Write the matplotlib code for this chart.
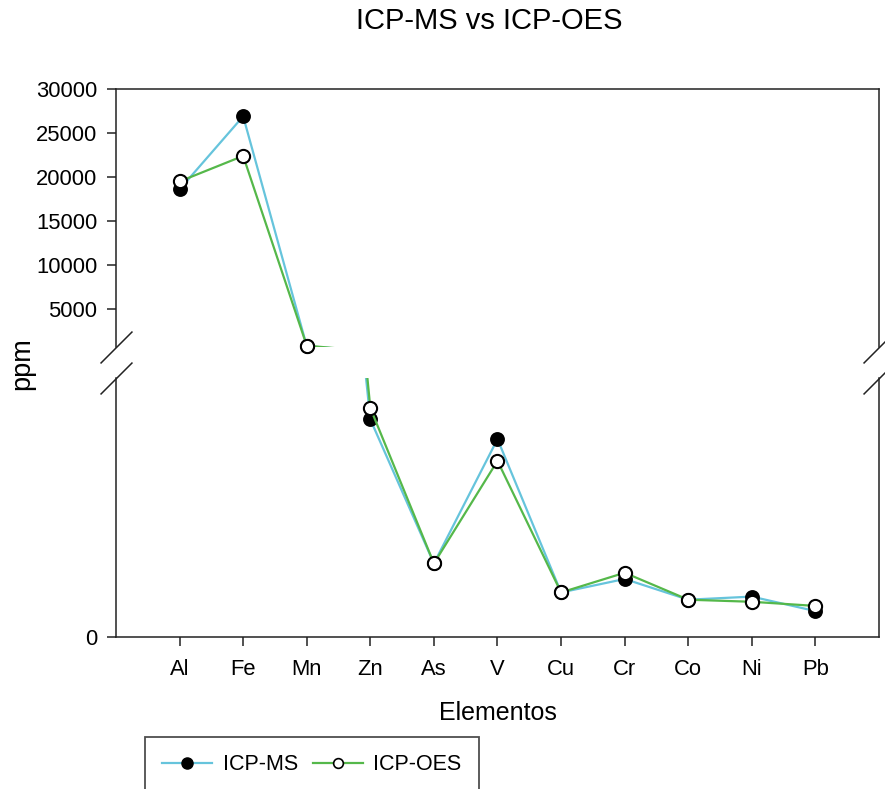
import numpy as np
import matplotlib
matplotlib.use("Agg")
import matplotlib.pyplot as plt
from matplotlib.lines import Line2D

plt.rcParams["font.family"] = ["Liberation Sans", "DejaVu Sans"]

elements = ["Al", "Fe", "Mn", "Zn", "As", "V", "Cu", "Cr", "Co", "Ni", "Pb"]
icp_ms = [18600, 26900, 800, 210, 71, 191, 43, 56, 36, 39, 25]
icp_oes = [19500, 22400, 850, 221, 71, 170, 43, 62, 36, 34, 30]

upper_ticks = [5000, 10000, 15000, 20000, 25000, 30000]
upper_lim = (700, 30000)
lower_lim = (0, 250)

MS_COLOR = "#66c4dc"
OES_COLOR = "#55b84a"
SPINE = "#222222"

fig = plt.figure(figsize=(8.85, 7.89), dpi=100)
left, right = 116 / 885, 879 / 885
ax_hi = fig.add_axes([left, 1 - 347 / 789, right - left, (347 - 89) / 789])
ax_lo = fig.add_axes([left, 1 - 637 / 789, right - left, (637 - 378) / 789])

x = np.arange(len(elements))
ms = np.array(icp_ms, dtype=float)
oes = np.array(icp_oes, dtype=float)


def draw_series(ax, lim):
    lo, hi = lim
    ax.plot(x, ms, color=MS_COLOR, lw=1.6, zorder=2)
    m = (ms >= lo) & (ms <= hi)
    ax.plot(x[m], ms[m], ls="none", marker="o", ms=9.5, mfc="black",
            mec="black", mew=1.2, clip_on=False, zorder=3)
    ax.plot(x, oes, color=OES_COLOR, lw=1.6, zorder=4)
    m = (oes >= lo) & (oes <= hi)
    ax.plot(x[m], oes[m], ls="none", marker="o", ms=9.5, mfc="white",
            mec="black", mew=1.5, clip_on=False, zorder=5)
    ax.set_xlim(-1, 11)
    ax.set_ylim(lo, hi)
    for s in ax.spines.values():
        s.set_color(SPINE)
        s.set_linewidth(1.1)
    ax.tick_params(direction="out", length=6.5, width=1.1, color=SPINE,
                   labelsize=15.8, pad=7)


draw_series(ax_hi, upper_lim)
draw_series(ax_lo, lower_lim)

# upper panel: y ticks only, no bottom spine
ax_hi.spines["bottom"].set_visible(False)
ax_hi.set_xticks([])
ax_hi.set_yticks(upper_ticks)
ax_hi.set_yticklabels([str(t) for t in upper_ticks])

# lower panel: element ticks, only a zero tick on y
ax_lo.spines["top"].set_visible(False)
ax_lo.set_yticks([0])
ax_lo.set_xticks(x)
ax_lo.set_xticklabels(elements)
ax_lo.tick_params(axis="x", pad=9)

# break marks on both sides of the axis gap
brk = dict(marker=[(-1, -1), (1, 1)], markersize=23, linestyle="none",
           color=SPINE, mec=SPINE, mew=1.1, clip_on=False)
ax_hi.plot([0, 1], [0, 0], transform=ax_hi.transAxes, **brk)
ax_lo.plot([0, 1], [1, 1], transform=ax_lo.transAxes, **brk)

fig.text(489 / 885, 1 - 21 / 789, "ICP-MS vs ICP-OES", ha="center",
         va="center", fontsize=21)
fig.text(498 / 885, 1 - 713 / 789, "Elementos", ha="center", va="center",
         fontsize=18)
fig.text(22 / 885, 1 - 364 / 789, "ppm", ha="center", va="center",
         rotation=90, fontsize=19.5)

handles = [
    Line2D([], [], color=MS_COLOR, lw=1.6, marker="o", ms=8,
           mfc="black", mec="black"),
    Line2D([], [], color=OES_COLOR, lw=1.6, marker="o", ms=7,
           mfc="white", mec="black", mew=1.2),
]
leg = fig.legend(handles, ["ICP-MS", "ICP-OES"], ncol=2, fontsize=15.5,
                 loc="center", bbox_to_anchor=(312 / 885, 1 - 765 / 789),
                 frameon=True, fancybox=False, borderpad=0.8,
                 handlelength=2.3, handletextpad=0.5, columnspacing=0.7)
leg.get_frame().set_edgecolor(SPINE)
leg.get_frame().set_linewidth(1.3)

fig.savefig("out.png", dpi=100)
